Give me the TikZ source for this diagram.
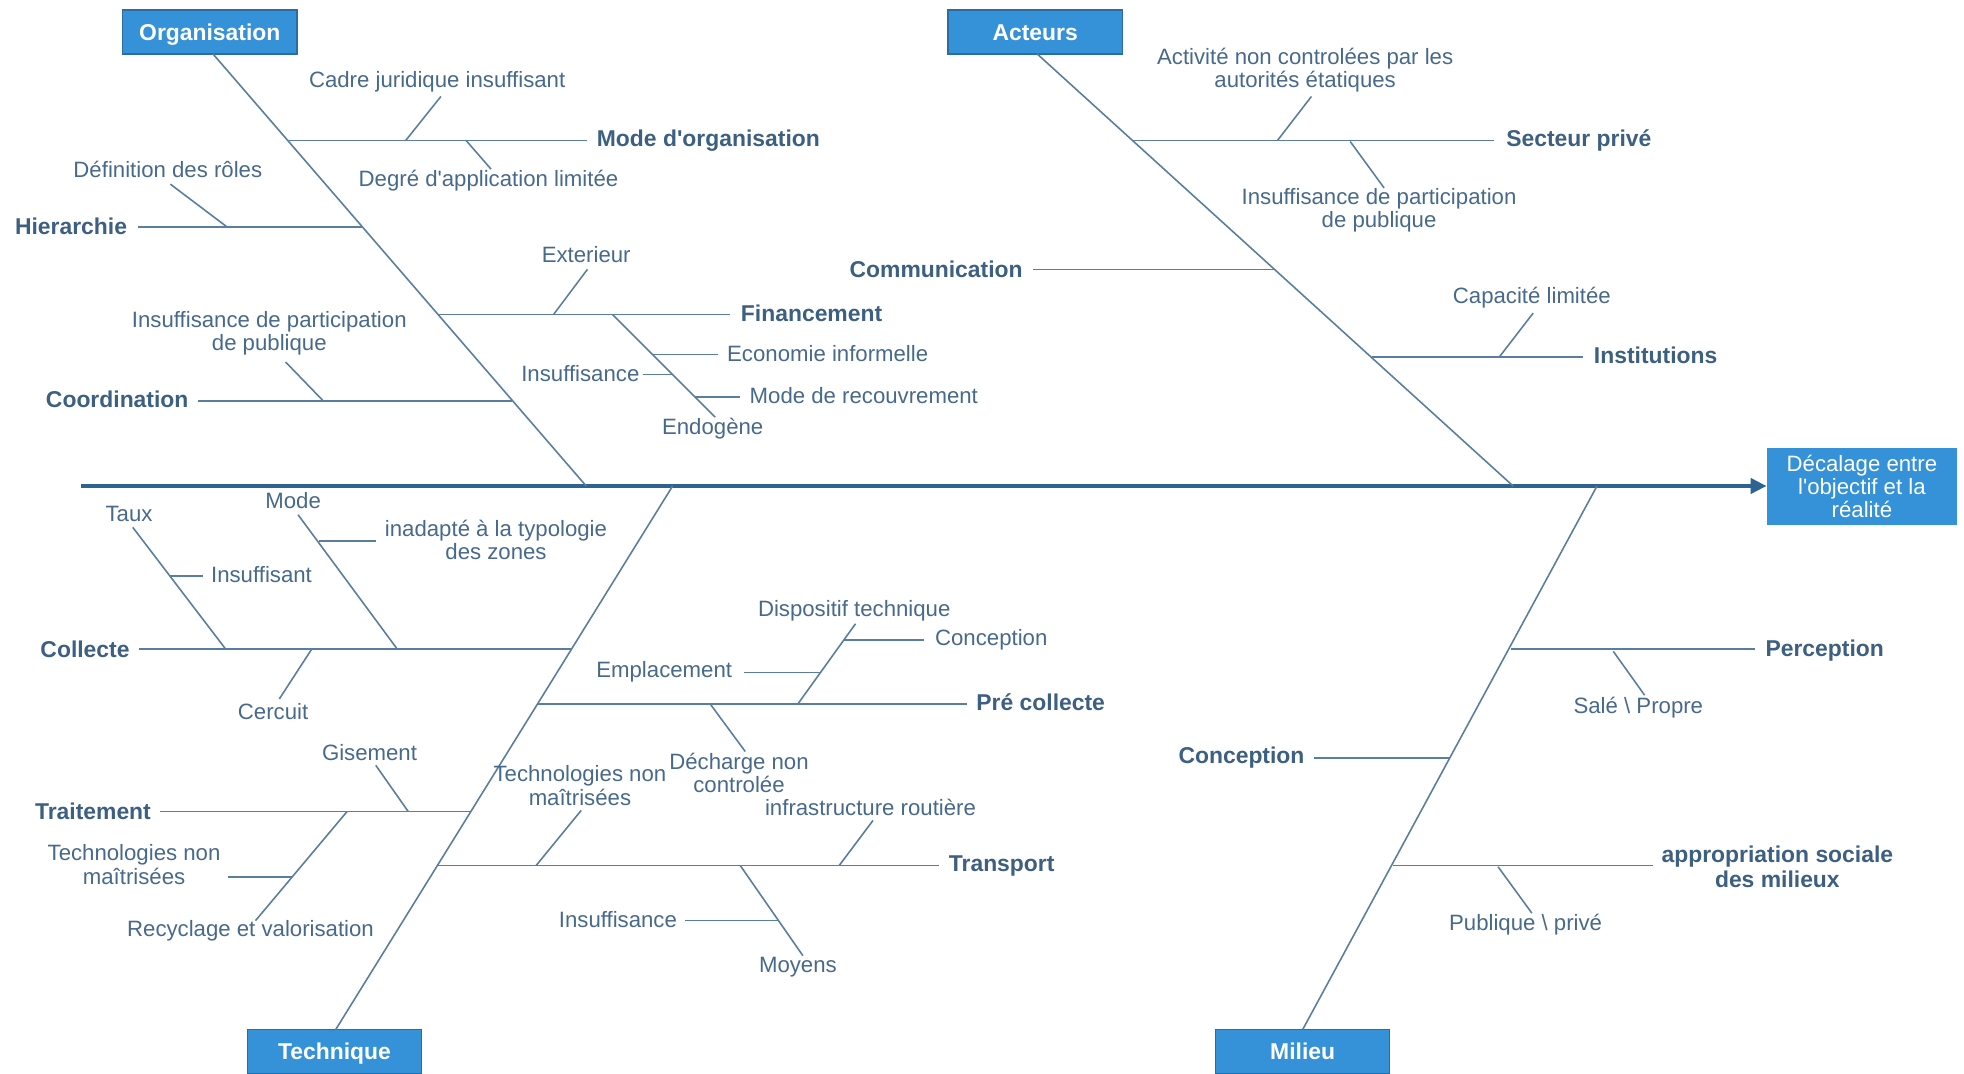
\documentclass[tikz,border=0pt]{standalone}
\usepackage{fontspec}
\setmainfont{Liberation Sans}
\usetikzlibrary{arrows.meta}

\definecolor{boxfill}{HTML}{3591D8}
\definecolor{boxedge}{HTML}{2A6CA3}
\definecolor{bonecol}{HTML}{5A7E9E}
\definecolor{spinecol}{HTML}{2C6391}
\definecolor{causetxt}{HTML}{47698C}
\definecolor{majortxt}{HTML}{3C5F82}

\newcommand{\apos}{\textquotesingle}

\begin{document}
\begin{tikzpicture}[x=0.0125cm,y=-0.0125cm,
  bone/.style={draw=bonecol, line width=0.45pt},
  cause/.style={font=\fontsize{6.3}{6.7}\selectfont, text=causetxt, align=center, inner sep=0pt},
  major/.style={font=\bfseries\fontsize{6.5}{6.9}\selectfont, text=majortxt, align=center, inner sep=0pt},
  category/.style={fill=boxfill, draw=boxedge, line width=0.4pt, text=white,
    font=\bfseries\fontsize{6.5}{7}\selectfont, text height=4.7pt, text depth=0pt,
    minimum width=1.7375cm, minimum height=0.4375cm, inner sep=0pt},
  effectbox/.style={fill=boxfill, text=white, align=center,
    font=\fontsize{6.3}{6.6}\selectfont,
    minimum width=1.8875cm, minimum height=0.7625cm, inner sep=0pt},
]
\useasboundingbox (0,0) rectangle (1568,857);

% ---------- spine and effect ----------
\node[effectbox] (effect) at (1486.5,388.5) {Décalage entre\\l\apos objectif et la\\réalité};
\coordinate (spine-start) at (65,388);
\draw[draw=spinecol, line width=1.2pt, -{Triangle[length=0.16cm,width=0.15cm]}]
  (spine-start) -- (spine-start -| effect.west);

% ---------- Organisation ----------
\node[category] (org) at (167.5,25.5) {Organisation};
\coordinate (org-a) at (170,43);
\coordinate (org-b) at (468,388);
\draw[bone] (org-a) -- (org-b);

\coordinate (mo-root) at (229,112);
\node[major, anchor=west] (mo) at (476,112) {Mode d\apos organisation};
\coordinate (mo-end) at (469,112);
\draw[bone] (mo-root) -- (mo-end);
\node[cause] (cj) at (349,65) {Cadre juridique insuffisant};
\coordinate (cj-a) at (324,112); \coordinate (cj-b) at (352,77);
\draw[bone] (cj-a) -- (cj-b);
\node[cause] (da) at (390,144) {Degré d\apos application limitée};
\coordinate (da-a) at (372,112); \coordinate (da-b) at (392,135);
\draw[bone] (da-a) -- (da-b);

\node[major, anchor=east] (hi) at (102,181) {Hierarchie};
\coordinate (hi-root) at (289,181); \coordinate (hi-end) at (110,181);
\draw[bone] (hi-root) -- (hi-end);
\node[cause] (dr) at (134,135) {Définition des rôles};
\coordinate (dr-a) at (136,147); \coordinate (dr-b) at (181,181);
\draw[bone] (dr-a) -- (dr-b);

\coordinate (fi-root) at (349,251); \coordinate (fi-end) at (583,251);
\draw[bone] (fi-root) -- (fi-end);
\node[major, anchor=west] (fi) at (591,250) {Financement};
\node[cause] (ext) at (468,203) {Exterieur};
\coordinate (ext-a) at (442,251); \coordinate (ext-b) at (469,215);
\draw[bone] (ext-a) -- (ext-b);
\coordinate (fs-a) at (489,251); \coordinate (fs-b) at (571,333);
\draw[bone] (fs-a) -- (fs-b);
\coordinate (eco-a) at (521,283); \coordinate (eco-b) at (573,283);
\draw[bone] (eco-a) -- (eco-b);
\node[cause, anchor=west] (eco) at (580,282) {Economie informelle};
\coordinate (ins1-a) at (513,299); \coordinate (ins1-b) at (537,299);
\draw[bone] (ins1-a) -- (ins1-b);
\node[cause, anchor=east] (ins1) at (511,298) {Insuffisance};
\coordinate (rec-a) at (555,317); \coordinate (rec-b) at (591,317);
\draw[bone] (rec-a) -- (rec-b);
\node[cause, anchor=west] (rec) at (598,316) {Mode de recouvrement};
\node[cause] (endo) at (569,342) {Endogène};

\node[major, anchor=east] (co) at (151,319) {Coordination};
\coordinate (co-root) at (409,320); \coordinate (co-end) at (158,320);
\draw[bone] (co-root) -- (co-end);
\node[cause] (ipp1) at (215,266) {Insuffisance de participation\\de publique};
\coordinate (ipp1-a) at (228,289); \coordinate (ipp1-b) at (258,320);
\draw[bone] (ipp1-a) -- (ipp1-b);

% ---------- Acteurs ----------
\node[category] (act) at (826.5,25.5) {Acteurs};
\coordinate (act-a) at (828,43);
\coordinate (act-b) at (1208,388);
\draw[bone] (act-a) -- (act-b);

\coordinate (sp-root) at (904,112); \coordinate (sp-end) at (1193,112);
\draw[bone] (sp-root) -- (sp-end);
\node[major, anchor=west] (sp) at (1202,112) {Secteur privé};
\node[cause] (anc) at (1042,56) {Activité non controlées par les\\autorités étatiques};
\coordinate (anc-a) at (1020,112); \coordinate (anc-b) at (1047,77);
\draw[bone] (anc-a) -- (anc-b);
\node[cause] (ipp2) at (1101,168) {Insuffisance de participation\\de publique};
\coordinate (ipp2-a) at (1078,113); \coordinate (ipp2-b) at (1105,150);
\draw[bone] (ipp2-a) -- (ipp2-b);

\node[major, anchor=east] (com) at (817,215) {Communication};
\coordinate (com-root) at (1017,215); \coordinate (com-end) at (825,215);
\draw[bone] (com-root) -- (com-end);

\coordinate (ins-root) at (1095,285); \coordinate (ins-end) at (1264,285);
\draw[bone] (ins-root) -- (ins-end);
\node[major, anchor=west] (inst) at (1272,284) {Institutions};
\node[cause] (cap) at (1223,238) {Capacité limitée};
\coordinate (cap-a) at (1197,285); \coordinate (cap-b) at (1224,250);
\draw[bone] (cap-a) -- (cap-b);

% ---------- Technique ----------
\node[category] (tech) at (267,839.5) {Technique};
\coordinate (tech-a) at (537,388);
\coordinate (tech-b) at (268,822);
\draw[bone] (tech-a) -- (tech-b);

\node[major, anchor=east] (col) at (104,518) {Collecte};
\coordinate (col-root) at (456,518); \coordinate (col-end) at (111,518);
\draw[bone] (col-root) -- (col-end);
\node[cause] (taux) at (103,410) {Taux};
\coordinate (taux-a) at (106,421); \coordinate (taux-b) at (180,518);
\draw[bone] (taux-a) -- (taux-b);
\coordinate (isf-a) at (136,460); \coordinate (isf-b) at (162,460);
\draw[bone] (isf-a) -- (isf-b);
\node[cause, anchor=west] (isf) at (168,459) {Insuffisant};
\node[cause] (mode) at (234,400) {Mode};
\coordinate (mode-a) at (238,411); \coordinate (mode-b) at (317,518);
\draw[bone] (mode-a) -- (mode-b);
\coordinate (inad-a) at (255,432); \coordinate (inad-b) at (300,432);
\draw[bone] (inad-a) -- (inad-b);
\node[cause] (inad) at (396,431) {inadapté à la typologie\\des zones};
\node[cause] (cer) at (218,568) {Cercuit};
\coordinate (cer-a) at (249,518); \coordinate (cer-b) at (223,558);
\draw[bone] (cer-a) -- (cer-b);

\coordinate (pc-root) at (429,562); \coordinate (pc-end) at (772,562);
\draw[bone] (pc-root) -- (pc-end);
\node[major, anchor=west] (pc) at (779,561) {Pré collecte};
\node[cause] (dt) at (682,488) {Dispositif technique};
\coordinate (dt-a) at (637,562); \coordinate (dt-b) at (683,498);
\draw[bone] (dt-a) -- (dt-b);
\coordinate (emp-a) at (594,537); \coordinate (emp-b) at (655,537);
\draw[bone] (emp-a) -- (emp-b);
\node[cause, anchor=east] (emp) at (585,536) {Emplacement};
\coordinate (cpt-a) at (674,511); \coordinate (cpt-b) at (738,511);
\draw[bone] (cpt-a) -- (cpt-b);
\node[cause, anchor=west] (cpt) at (746,511) {Conception};
\node[cause] (dech) at (590,617) {Décharge non\\controlée};
\coordinate (dech-a) at (567,562); \coordinate (dech-b) at (595,600);
\draw[bone] (dech-a) -- (dech-b);

\node[major, anchor=east] (tr) at (121,648) {Traitement};
\coordinate (tr-root) at (376,648); \coordinate (tr-end) at (128,648);
\draw[bone] (tr-root) -- (tr-end);
\node[cause] (gis) at (295,601) {Gisement};
\coordinate (gis-a) at (300,611); \coordinate (gis-b) at (326,648);
\draw[bone] (gis-a) -- (gis-b);
\coordinate (rv-a) at (277,648); \coordinate (rv-b) at (204,735);
\draw[bone] (rv-a) -- (rv-b);
\coordinate (tnm1-a) at (182,700); \coordinate (tnm1-b) at (233,700);
\draw[bone] (tnm1-a) -- (tnm1-b);
\node[cause] (tnm1) at (107,690) {Technologies non\\maîtrisées};
\node[cause] (rv) at (200,743) {Recyclage et valorisation};

\coordinate (tp-root) at (349,691); \coordinate (tp-end) at (750,691);
\draw[bone] (tp-root) -- (tp-end);
\node[major, anchor=west] (tp) at (757,691) {Transport};
\node[cause] (tnm2) at (463,627) {Technologies non\\maîtrisées};
\coordinate (tnm2-a) at (428,691); \coordinate (tnm2-b) at (464,647);
\draw[bone] (tnm2-a) -- (tnm2-b);
\node[cause] (infra) at (695,645) {infrastructure routière};
\coordinate (infra-a) at (670,691); \coordinate (infra-b) at (697,655);
\draw[bone] (infra-a) -- (infra-b);
\coordinate (moy-a) at (591,691); \coordinate (moy-b) at (641,763);
\draw[bone] (moy-a) -- (moy-b);
\coordinate (ins2-a) at (547,735); \coordinate (ins2-b) at (621,735);
\draw[bone] (ins2-a) -- (ins2-b);
\node[cause, anchor=east] (ins2) at (541,734) {Insuffisance};
\node[cause] (moy) at (637,772) {Moyens};

% ---------- Milieu ----------
\node[category] (mil) at (1040,839.5) {Milieu};
\coordinate (mil-a) at (1275,388);
\coordinate (mil-b) at (1040,822);
\draw[bone] (mil-a) -- (mil-b);

\coordinate (per-root) at (1206,518); \coordinate (per-end) at (1401,518);
\draw[bone] (per-root) -- (per-end);
\node[major, anchor=west] (per) at (1409,519) {Perception};
\coordinate (sale-a) at (1288,520); \coordinate (sale-b) at (1313,555);
\draw[bone] (sale-a) -- (sale-b);
\node[cause] (sale) at (1308,565) {Salé \textbackslash{} Propre};

\node[major, anchor=east] (conc) at (1042,605) {Conception};
\coordinate (conc-root) at (1158,605); \coordinate (conc-end) at (1049,605);
\draw[bone] (conc-root) -- (conc-end);

\coordinate (app-root) at (1112,691); \coordinate (app-end) at (1320,691);
\draw[bone] (app-root) -- (app-end);
\node[major] (app) at (1419,692) {appropriation sociale\\des milieux};
\coordinate (pub-a) at (1196,692); \coordinate (pub-b) at (1223,729);
\draw[bone] (pub-a) -- (pub-b);
\node[cause] (pub) at (1218,738) {Publique \textbackslash{} privé};

\end{tikzpicture}
\end{document}
